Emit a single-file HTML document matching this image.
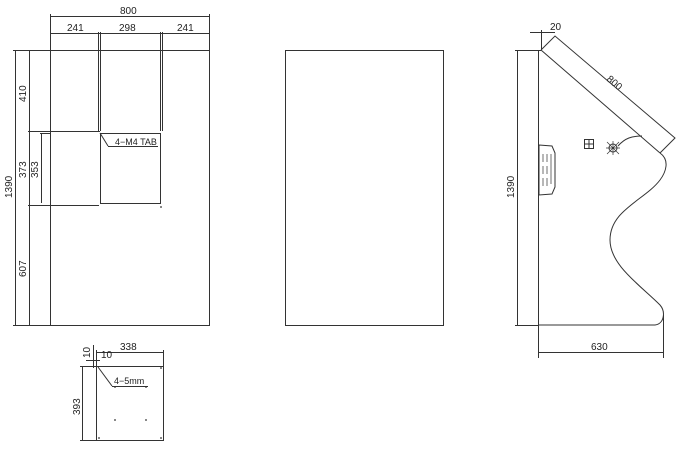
<!DOCTYPE html>
<html><head><style>body{margin:0;background:#fff}svg{display:block}text{font-family:"Liberation Sans",sans-serif;font-size:10px;fill:#222;stroke:none}</style></head>
<body>
<svg width="680" height="450" viewBox="0 0 680 450" fill="none" stroke="#333" stroke-width="1">
<!-- left panel -->
<rect x="50.5" y="50.5" width="159" height="275"/>
<line x1="50.5" y1="16.5" x2="209.5" y2="16.5"/>
<line x1="50.5" y1="14" x2="50.5" y2="50"/><line x1="209.5" y1="14" x2="209.5" y2="50"/>
<text x="120" y="14">800</text>
<line x1="50.5" y1="33.5" x2="209.5" y2="33.5"/>
<text x="67" y="31">241</text><text x="119" y="31">298</text><text x="177" y="31">241</text>
<line x1="98.5" y1="32" x2="98.5" y2="131"/><line x1="100.5" y1="32" x2="100.5" y2="131"/>
<line x1="160.5" y1="32" x2="160.5" y2="131"/><line x1="162.5" y1="32" x2="162.5" y2="131"/>
<line x1="28" y1="131.5" x2="100" y2="131.5"/>
<rect x="100.5" y="133.5" width="60" height="70"/>
<line x1="28" y1="205.5" x2="99" y2="205.5"/>
<line x1="40" y1="133.5" x2="50" y2="133.5"/>
<line x1="100" y1="133" x2="108" y2="146"/><line x1="108" y1="146.5" x2="158" y2="146.5"/>
<text x="115" y="145" style="font-size:9px">4−M4 TAB</text>
<line x1="15.5" y1="50" x2="15.5" y2="325"/><line x1="13" y1="50.5" x2="50" y2="50.5"/><line x1="13" y1="325.5" x2="50" y2="325.5"/>
<line x1="29.5" y1="50" x2="29.5" y2="325"/>
<line x1="41.5" y1="133" x2="41.5" y2="203"/>
<text transform="translate(12,198) rotate(-90)">1390</text>
<text transform="translate(26,102) rotate(-90)">410</text>
<text transform="translate(26,178) rotate(-90)">373</text>
<text transform="translate(38,178) rotate(-90)">353</text>
<text transform="translate(26,277) rotate(-90)">607</text>
<!-- middle -->
<rect x="285.5" y="50.5" width="158" height="275"/>
<!-- right side -->
<line x1="517.5" y1="50" x2="517.5" y2="325"/>
<line x1="515" y1="50.5" x2="541" y2="50.5"/><line x1="515" y1="325.5" x2="538" y2="325.5"/>
<text transform="translate(514,198) rotate(-90)">1390</text>
<line x1="538.5" y1="50" x2="538.5" y2="358"/>
<line x1="541.5" y1="30" x2="541.5" y2="50"/><line x1="530" y1="32.5" x2="555" y2="32.5"/>
<text x="550" y="30">20</text>
<path d="M541 50 L660 153"/>
<path d="M541 50 L555 36 L675 138 L660 153"/>
<path d="M660 153 C670 160 666 172 660 180 C645 200 610 210 610 240 C610 265 640 285 660 305 C666 312 664 324 655 325 L538 325"/>
<text transform="translate(606,80) rotate(40)">800</text>
<line x1="538" y1="352.5" x2="663" y2="352.5"/><line x1="663.5" y1="315" x2="663.5" y2="358"/>
<text x="591" y="350">630</text>
<rect x="584.5" y="139.5" width="9" height="9"/><line x1="589" y1="139" x2="589" y2="149"/><line x1="584" y1="144" x2="594" y2="144"/>
<circle cx="613" cy="148" r="4"/><path d="M607 142 L619 154 M619 142 L607 154 M613 141 L613 155 M606 148 L620 148" stroke-width="0.7"/>
<path d="M618 146 C625 138 632 136 642 136"/>
<path d="M539 145 L552 146 L555 153 L555 187 L552 194 L539 195 Z"/>
<path d="M543 154 v8 M547 154 v8 M543 166 v8 M547 166 v8 M543 178 v8 M547 178 v8 M551 154 v30" stroke-width="0.7"/>
<!-- bottom small -->
<rect x="96.5" y="366.5" width="67" height="74"/>
<line x1="96.5" y1="352.5" x2="163.5" y2="352.5"/><line x1="96.5" y1="350" x2="96.5" y2="366"/><line x1="163.5" y1="350" x2="163.5" y2="366"/>
<text x="120" y="350">338</text>
<line x1="86" y1="360.5" x2="100" y2="360.5"/><text x="101" y="358">10</text>
<line x1="93.5" y1="345" x2="93.5" y2="368"/>
<text transform="translate(90,358) rotate(-90)">10</text>
<line x1="82.5" y1="366" x2="82.5" y2="440"/><line x1="80" y1="366.5" x2="96" y2="366.5"/><line x1="80" y1="440.5" x2="96" y2="440.5"/>
<text transform="translate(80,415) rotate(-90)">393</text>
<line x1="98" y1="367" x2="112" y2="386"/><line x1="112" y1="386.5" x2="148" y2="386.5"/>
<text x="114" y="384" style="font-size:9px">4−5mm</text>
<g fill="#333" stroke="none"><circle cx="115" cy="387" r="0.9"/><circle cx="146" cy="387" r="0.9"/><circle cx="115" cy="420" r="0.9"/><circle cx="146" cy="420" r="0.9"/><circle cx="99" cy="438" r="0.9"/><circle cx="161" cy="438" r="0.9"/><circle cx="161" cy="368" r="0.9"/><circle cx="161" cy="207" r="0.9"/></g>
</svg>
</body></html>
